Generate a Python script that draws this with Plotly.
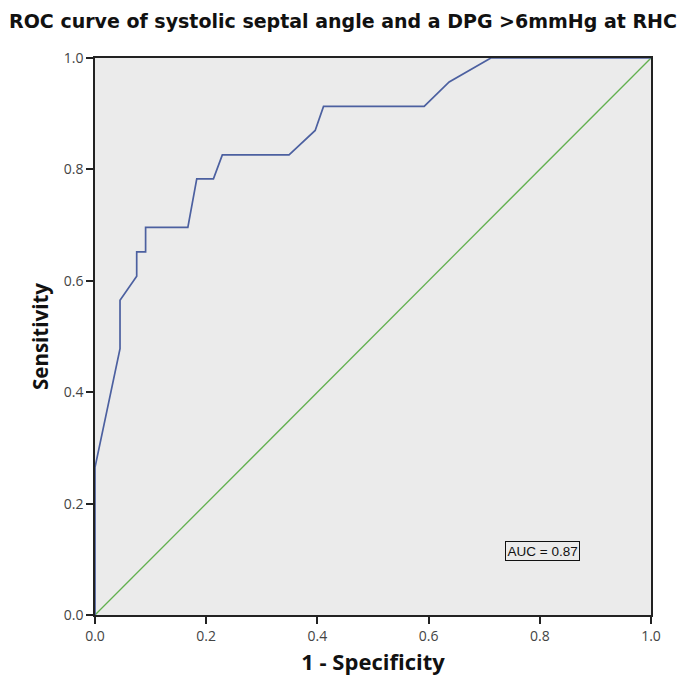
import plotly.graph_objects as go

fpr = [0.0, 0.0, 0.045, 0.045, 0.075, 0.075, 0.091, 0.091, 0.167, 0.183, 0.213, 0.229,
       0.349, 0.396, 0.411, 0.592, 0.637, 0.712, 1.0]
tpr = [0.0, 0.265, 0.478, 0.565, 0.608, 0.652, 0.652, 0.696, 0.696, 0.783, 0.783, 0.826,
       0.826, 0.870, 0.913, 0.913, 0.957, 1.0, 1.0]
ref_x = [0.0, 1.0]
ref_y = [0.0, 1.0]
tick_vals = [0.0, 0.2, 0.4, 0.6, 0.8, 1.0]
tick_text = ["0.0", "0.2", "0.4", "0.6", "0.8", "1.0"]
auc_text = "AUC = 0.87"

W = H = 670

fig = go.Figure()
fig.add_trace(go.Scatter(x=ref_x, y=ref_y, mode="lines",
                         line=dict(color="#62b04f", width=1.3), showlegend=False))
fig.add_trace(go.Scatter(x=fpr, y=tpr, mode="lines",
                         line=dict(color="#4c60a0", width=1.7), showlegend=False))

fig.add_annotation(x=0.804, y=0.115, xref="x", yref="y", text=auc_text, showarrow=False,
                   font=dict(family="Liberation Sans", size=13.5, color="#111"),
                   bordercolor="#111", borderwidth=1, borderpad=1.5, bgcolor="#ebebeb")

axis_common = dict(range=[0, 1], tickvals=tick_vals, ticktext=tick_text,
                   ticks="outside", ticklen=7, tickwidth=1.5, tickcolor="#222",
                   showline=True, linecolor="#222", linewidth=1.5, mirror=True,
                   showgrid=False, zeroline=False, automargin=False,
                   tickfont=dict(family="Open Sans", size=14, color="#444"))

fig.update_layout(
    width=W, height=H,
    margin=dict(l=87, r=27, t=50, b=63),
    paper_bgcolor="white", plot_bgcolor="#ebebeb",
    title=dict(text="<b>ROC curve of systolic septal angle and a DPG >6mmHg at RHC</b>",
               x=0.5, xanchor="center", xref="container", y=1 - 13 / H, yanchor="middle",
               yref="container", automargin=False,
               font=dict(family="DejaVu Sans", size=19, color="#111")),
    xaxis=dict(**axis_common,
               title=dict(text="<b>1 - Specificity</b>", standoff=11,
                          font=dict(family="Open Sans", size=22, color="#111"))),
    yaxis=dict(**axis_common,
               title=dict(text="<b>Sensitivity</b>", standoff=10,
                          font=dict(family="Open Sans", size=20.5, color="#111"))),
)

fig.write_html("out.html")
